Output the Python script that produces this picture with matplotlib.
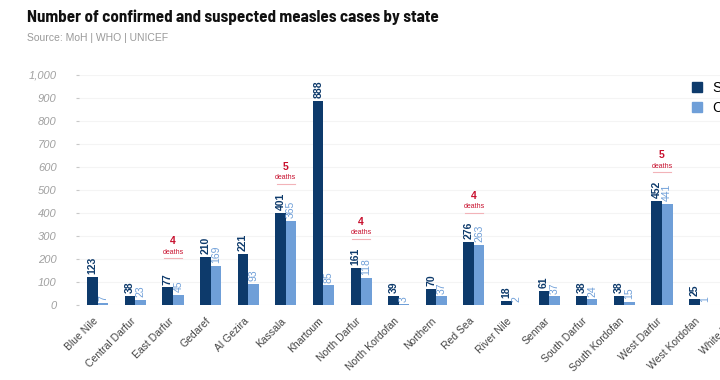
import numpy as np
import matplotlib
matplotlib.use("Agg")
import matplotlib.pyplot as plt
import matplotlib.transforms as mtransforms
from matplotlib.patches import Patch

states = ["Blue Nile", "Central Darfur", "East Darfur", "Gedaref", "Al Gezira", "Kassala",
          "Khartoum", "North Darfur", "North Kordofan", "Northern", "Red Sea", "River Nile",
          "Sennar", "South Darfur", "South Kordofan", "West Darfur", "West Kordofan", "White Nile"]
suspected = [123, 38, 77, 210, 221, 401, 888, 161, 39, 70, 276, 18, 61, 38, 38, 452, 25, np.nan]
confirmed = [7, 23, 45, 169, 93, 365, 85, 118, 3, 37, 263, 2, 37, 24, 15, 441, 1, np.nan]
deaths = {"East Darfur": 4, "Kassala": 5, "North Darfur": 4, "Red Sea": 4, "West Darfur": 5}

DARK = "#0d3a6b"
LIGHT = "#6f9fd8"
RED = "#c8102e"

fig = plt.figure(figsize=(7.2, 3.8), dpi=100)
ax = fig.add_axes([79/720, 75/380, 677/720, 230/380])

x = np.arange(len(states))
w = 0.28
ax.bar(x - w/2, suspected, width=w, color=DARK, label="Suspected")
ax.bar(x + w/2, confirmed, width=w, color=LIGHT, label="Confirmed")

for i, (s, c) in enumerate(zip(suspected, confirmed)):
    if np.isnan(s):
        continue
    ax.annotate(f"{int(s)}", (i - w/2, s), xytext=(0, 2), textcoords="offset points",
                rotation=90, ha="center", va="bottom", fontsize=7.5, fontweight="bold",
                color=DARK, family="Liberation Sans")
    ax.annotate(f"{int(c)}", (i + w/2, c), xytext=(0, 2), textcoords="offset points",
                rotation=90, ha="center", va="bottom", fontsize=7.5,
                color=LIGHT, family="Liberation Sans")

for name, d in deaths.items():
    i = states.index(name)
    top = max(suspected[i], confirmed[i])
    ax.annotate("deaths", (i, top), xytext=(0, 35), textcoords="offset pixels",
                ha="center", va="center", fontsize=5, color=RED, family="Liberation Sans")
    ax.annotate(f"{d}", (i, top), xytext=(0, 46), textcoords="offset pixels",
                ha="center", va="center", fontsize=7.5, fontweight="bold", color=RED,
                family="Liberation Sans")
    ax.plot([i - 0.24, i + 0.24], [top + 29/0.23, top + 29/0.23], color="#f2b3b8", lw=0.8,
            clip_on=False)

ax.set_xlim(-0.5, 17.5)
ax.set_ylim(0, 1000)
ax.set_yticks(np.arange(0, 1001, 100))
ax.set_yticklabels([f"{v:,}" for v in range(0, 1001, 100)], fontsize=8, style="italic",
                   color="#a0a0a0", family="Liberation Sans")
ax.tick_params(axis="y", length=2, pad=14, color="#c8c8c8")
ax.set_xticks(x)
ax.set_xticklabels(states, rotation=45, ha="right", rotation_mode="anchor", fontsize=7.5,
                   color="#444444", family="Liberation Sans")
ax.tick_params(axis="x", length=0, pad=8)
shift = mtransforms.ScaledTranslation(-5/100, 0, fig.dpi_scale_trans)
for lab in ax.get_xticklabels():
    lab.set_transform(lab.get_transform() + shift)
for sp in ax.spines.values():
    sp.set_visible(False)
ax.grid(axis="y", color="#f4f4f4", lw=0.8)
ax.set_axisbelow(True)

handles = [Patch(color=DARK, label="Suspected"), Patch(color=LIGHT, label="Confirmed")]
fig.legend(handles=handles, loc="upper left", bbox_to_anchor=(682/720, 1 - 71/380),
           frameon=False, handlelength=0.75, handleheight=0.75,
           handletextpad=0.7, labelspacing=0.45, borderpad=0.2,
           prop={"family": "Liberation Sans", "size": 10})

fig.text(27/720, 1 - 17/380, "Number of confirmed and suspected measles cases by state",
         fontsize=12.2, fontweight="bold", color="#111111", va="center", ha="left",
         family="Barlow Semi Condensed")
fig.text(27/720, 1 - 38/380, "Source: MoH | WHO | UNICEF", fontsize=7.5, color="#9a9a9a",
         va="center", ha="left", family="Liberation Sans")

fig.savefig("out.png", dpi=100)
